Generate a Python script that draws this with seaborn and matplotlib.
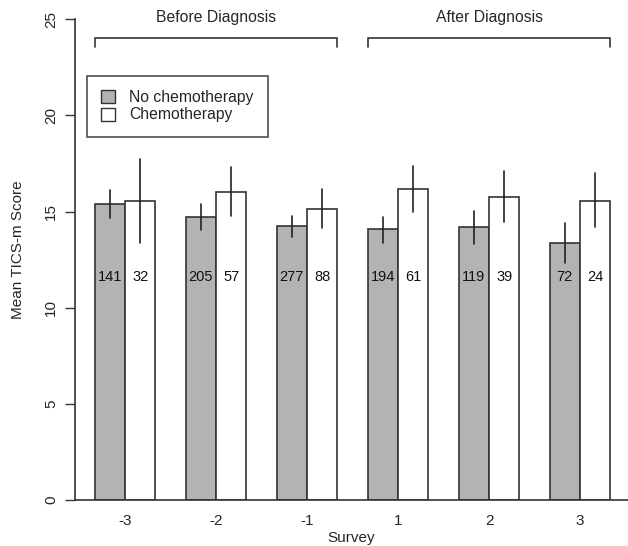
import numpy as np
import pandas as pd
import matplotlib
matplotlib.use("Agg")
import matplotlib.pyplot as plt
import matplotlib.patches as mpatches
import seaborn as sns

surveys = ["-3", "-2", "-1", "1", "2", "3"]
groups = ["No chemotherapy", "Chemotherapy"]

mean_nochemo = [15.4, 14.7, 14.24, 14.07, 14.17, 13.37]
mean_chemo = [15.54, 16.03, 15.14, 16.15, 15.77, 15.56]

lo_nochemo = [14.67, 14.03, 13.69, 13.37, 13.31, 12.33]
hi_nochemo = [16.11, 15.37, 14.76, 14.73, 15.04, 14.38]
lo_chemo = [13.37, 14.76, 14.12, 14.97, 14.45, 14.17]
hi_chemo = [17.71, 17.29, 16.15, 17.36, 17.10, 16.98]

n_nochemo = [141, 205, 277, 194, 119, 72]
n_chemo = [32, 57, 88, 61, 39, 24]

periods = ["Before Diagnosis", "After Diagnosis"]

df = pd.DataFrame({
    "Survey": surveys * 2,
    "Group": [groups[0]] * 6 + [groups[1]] * 6,
    "Mean": mean_nochemo + mean_chemo,
    "Lo": lo_nochemo + lo_chemo,
    "Hi": hi_nochemo + hi_chemo,
    "N": n_nochemo + n_chemo,
})

sns.set_style("white")
plt.rcParams["font.family"] = ["Liberation Sans", "DejaVu Sans"]

fig = plt.figure(figsize=(6.28, 5.46), dpi=100)
ax = fig.add_axes([75 / 628, 46 / 546, 553 / 628, 500 / 546])

grey = "#b3b3b3"
edge = "#333333"
sns.barplot(data=df, x="Survey", y="Mean", hue="Group", order=surveys,
            hue_order=groups, palette=[grey, "white"], width=2 / 3, gap=0,
            errorbar=None, edgecolor=edge, linewidth=1.2, legend=False, ax=ax)

# error bars and counts at the bar centres
bars = [p for p in ax.patches if isinstance(p, mpatches.Rectangle)][:12]
for i, g in enumerate(groups):
    sub = df[df["Group"] == g]
    for j in range(6):
        b = bars[i * 6 + j]
        xc = b.get_x() + b.get_width() / 2
        row = sub.iloc[j]
        ax.plot([xc, xc], [row["Lo"], row["Hi"]], color="#222222", lw=1.2)
        ax.text(xc, 11.6, str(row["N"]), ha="center", va="center",
                fontsize=10.5, color="#111111")

ax.set_xlim(-0.549, 5.527)
ax.set_ylim(0, 26)
ax.set_yticks([0, 5, 10, 15, 20, 25])
ax.set_yticklabels(["0", "5", "10", "15", "20", "25"], rotation=90, va="center")
ax.tick_params(axis="y", length=7, width=1, color="#333333", pad=5,
               labelsize=11, left=True)
ax.tick_params(axis="x", length=0, pad=10, labelsize=11)
for s in ["top", "right"]:
    ax.spines[s].set_visible(False)
ax.spines["left"].set_bounds(0, 25)
ax.spines["left"].set_color("#333333")
ax.spines["bottom"].set_color("#333333")
ax.spines["left"].set_linewidth(1.2)
ax.spines["bottom"].set_linewidth(1.2)
ax.set_xlabel("Survey", fontsize=11, labelpad=2)
ax.set_ylabel("Mean TICS-m Score", fontsize=11, labelpad=14)

# period brackets
spans = [(-1 / 3, 2 + 1 / 3), (3 - 1 / 3, 5 + 1 / 3)]
for (x0, x1), lab in zip(spans, periods):
    ax.plot([x0, x0, x1, x1], [23.56, 24.0, 24.0, 23.56], color="#333333",
            lw=1.2, clip_on=False)
    ax.text((x0 + x1) / 2, 25.1, lab, ha="center", va="center", fontsize=11.3)

handles = [mpatches.Patch(facecolor=grey, edgecolor=edge, label=groups[0]),
           mpatches.Patch(facecolor="white", edgecolor=edge, label=groups[1])]
leg = ax.legend(handles=handles, loc="upper left",
                bbox_to_anchor=(0.0217, 0.848), borderaxespad=0,
                fancybox=False, frameon=True, fontsize=11.3,
                handlelength=0.9, handleheight=0.9, handletextpad=0.9,
                borderpad=0.9, labelspacing=0.15)
leg.get_frame().set_edgecolor("#222222")
leg.get_frame().set_linewidth(1.2)

fig.savefig("out.png", dpi=100)
